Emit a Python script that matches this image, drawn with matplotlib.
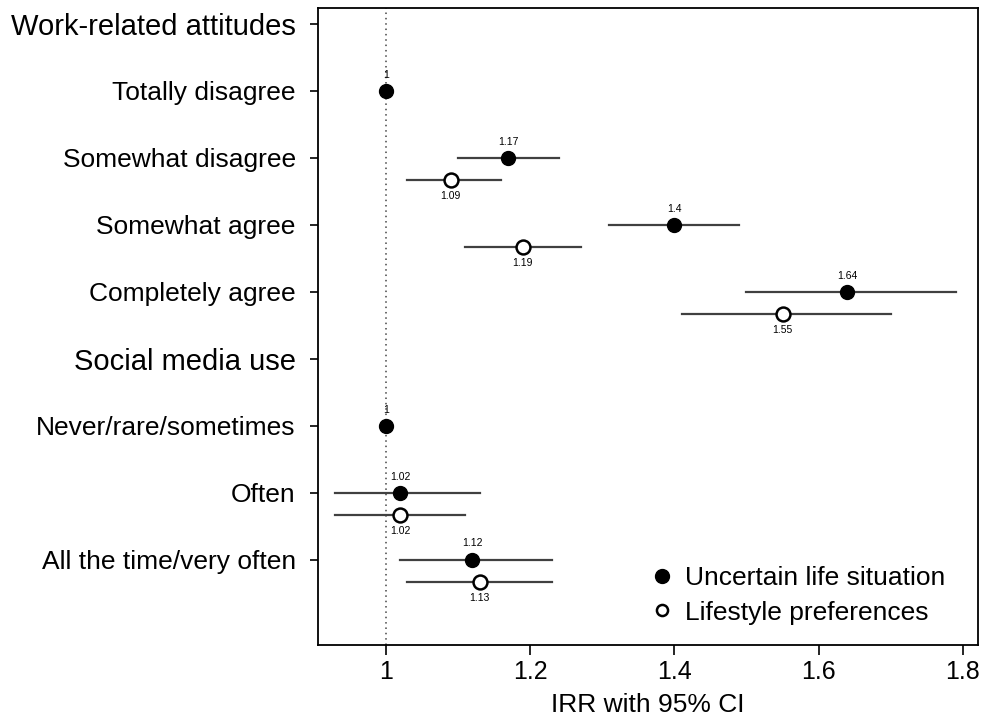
import matplotlib
matplotlib.use("Agg")
import matplotlib.pyplot as plt
import numpy as np

plt.rcParams["font.family"] = ["Liberation Sans", "DejaVu Sans"]

# rows top to bottom; headers have no estimates
row_labels = ["Work-related attitudes", "Totally disagree", "Somewhat disagree",
              "Somewhat agree", "Completely agree", "Social media use",
              "Never/rare/sometimes", "Often", "All the time/very often"]
is_header = [True, False, False, False, False, True, False, False, False]

# Uncertain life situation (filled)
uls_irr = [None, 1.00, 1.17, 1.40, 1.64, None, 1.00, 1.02, 1.12]
uls_lo = [None, None, 1.10, 1.31, 1.50, None, None, 0.93, 1.02]
uls_hi = [None, None, 1.24, 1.49, 1.79, None, None, 1.13, 1.23]

# Lifestyle preferences (open)
lp_irr = [None, None, 1.09, 1.19, 1.55, None, None, 1.02, 1.13]
lp_lo = [None, None, 1.03, 1.11, 1.41, None, None, 0.93, 1.03]
lp_hi = [None, None, 1.16, 1.27, 1.70, None, None, 1.11, 1.23]

x_ticks = [1, 1.2, 1.4, 1.6, 1.8]
x_tick_labels = ["1", "1.2", "1.4", "1.6", "1.8"]

ERR_COLOR = "#404040"
OFFSET = 0.33

fig = plt.figure(figsize=(9.85, 7.15), dpi=100)
ax = fig.add_axes([0.3228, 0.0979, 0.6701, 0.8909])

ax.axvline(1, color="#444444", linestyle=(0, (1, 2.5)), linewidth=1.1, zorder=1)

ypos = -np.arange(len(row_labels))
for i, y in enumerate(ypos):
    if uls_irr[i] is not None:
        if uls_lo[i] is not None:
            ax.plot([uls_lo[i], uls_hi[i]], [y, y], color=ERR_COLOR, lw=1.6, zorder=2)
        ax.plot(uls_irr[i], y, "o", ms=10, mfc="black", mec="black", zorder=3)
        ax.annotate(f"{uls_irr[i]:g}", (uls_irr[i], y), xytext=(0, 8),
                    textcoords="offset points", ha="center", va="bottom", fontsize=7.5)
    if lp_irr[i] is not None:
        yo = y - OFFSET
        ax.plot([lp_lo[i], lp_hi[i]], [yo, yo], color=ERR_COLOR, lw=1.6, zorder=2)
        ax.plot(lp_irr[i], yo, "o", ms=10, mfc="white", mec="black", mew=1.8, zorder=3)
        ax.annotate(f"{lp_irr[i]:g}", (lp_irr[i], yo), xytext=(0, -8),
                    textcoords="offset points", ha="center", va="top", fontsize=7.5)

ax.set_xlim(0.906, 1.821)
ax.set_ylim(-9.275, 0.235)
ax.set_yticks(ypos)
ax.set_yticklabels(row_labels)
for lbl, h in zip(ax.get_yticklabels(), is_header):
    lbl.set_fontsize(21 if h else 19)
ax.set_xticks(x_ticks)
ax.set_xticklabels(x_tick_labels, fontsize=18)
ax.tick_params(axis="y", length=6, width=1.2, pad=10)
ax.tick_params(axis="x", length=7, width=1.2, pad=4)
ax.set_xlabel("IRR with 95% CI", fontsize=19, labelpad=6)
for sp in ax.spines.values():
    sp.set_linewidth(1.3)

h1 = ax.plot([], [], "o", ms=10, mfc="black", mec="black", ls="none")[0]
h2 = ax.plot([], [], "o", ms=8, mfc="white", mec="black", mew=1.8, ls="none")[0]
ax.legend([h1, h2], ["Uncertain life situation", "Lifestyle preferences"],
          loc="lower right", bbox_to_anchor=(0.983, -0.001), frameon=False,
          fontsize=19, handletextpad=0.4, labelspacing=0.4,
          borderaxespad=0.4, handlelength=1.0)

fig.savefig("out.png", dpi=100)
